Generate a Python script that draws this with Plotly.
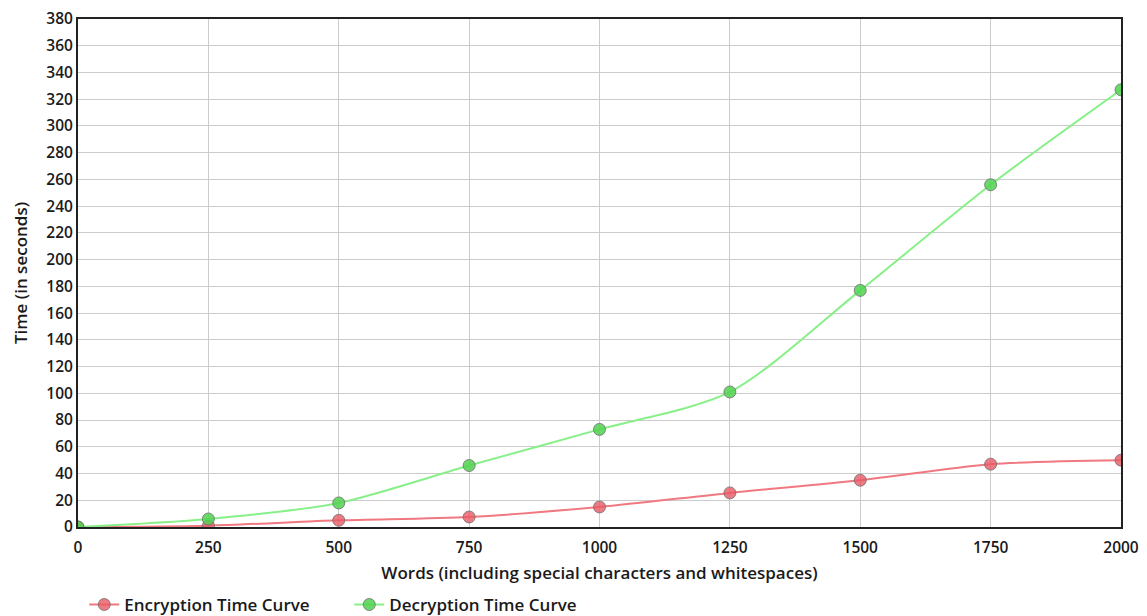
import plotly.graph_objects as go

words = [0, 250, 500, 750, 1000, 1250, 1500, 1750, 2000]
encryption = [0, 1, 5, 7.5, 15, 25.5, 35, 47, 50]
decryption = [0, 6, 18, 46, 73, 101, 177, 256, 327]
y_ticks = list(range(0, 381, 20))

FAM = "Open Sans"
tick_font = dict(family=FAM, size=15.5, color="#1a1a1a", weight=600)
title_font = dict(family=FAM, size=17, color="#1a1a1a", weight=600)

fig = go.Figure()
fig.add_trace(go.Scatter(
    x=words, y=encryption, name="Encryption Time Curve", mode="lines+markers",
    line=dict(color="#f07880", width=2, shape="spline", smoothing=0.8),
    marker=dict(size=12, color="rgba(232,90,100,0.8)", line=dict(color="rgba(110,110,110,0.8)", width=1)),
))
fig.add_trace(go.Scatter(
    x=words, y=decryption, name="Decryption Time Curve", mode="lines+markers",
    line=dict(color="#88f088", width=2, shape="spline", smoothing=0.8),
    marker=dict(size=12, color="rgba(80,210,80,0.85)", line=dict(color="rgba(110,110,110,0.8)", width=1)),
))

fig.update_layout(
    width=1139, height=608,
    margin=dict(l=70, r=26, t=11, b=89, autoexpand=False),
    paper_bgcolor="white", plot_bgcolor="white",
    font=tick_font,
    showlegend=True,
    legend=dict(orientation="h", x=0.006, xanchor="left", y=-0.118, yanchor="top",
                font=title_font, itemwidth=30, tracegroupgap=0, entrywidth=220),
    annotations=[dict(text="Time (in seconds)", textangle=-90, xref="paper", yref="paper",
                      x=-(58 / 1043), y=0.5, xanchor="center", yanchor="middle",
                      showarrow=False, font=title_font)],
)
fig.update_xaxes(
    range=[0, 2000], tickvals=words, ticktext=[str(w) for w in words],
    tickfont=tick_font, ticklabelstandoff=5, ticklabeloverflow="allow",
    showgrid=True, gridcolor="#cccccc", gridwidth=1,
    showline=True, linecolor="#222222", linewidth=2, mirror=True,
    zeroline=False, ticks="", ticklen=0,
    title=dict(text="Words (including special characters and whitespaces)", standoff=11,
               font=title_font),
)
fig.update_yaxes(
    range=[0, 380], tickvals=y_ticks,
    tickfont=tick_font, ticklabeloverflow="allow",
    showgrid=True, gridcolor="#cccccc", gridwidth=1,
    showline=True, linecolor="#222222", linewidth=2, mirror=True,
    zeroline=False, ticks="",
)

fig.write_html("out.html")
